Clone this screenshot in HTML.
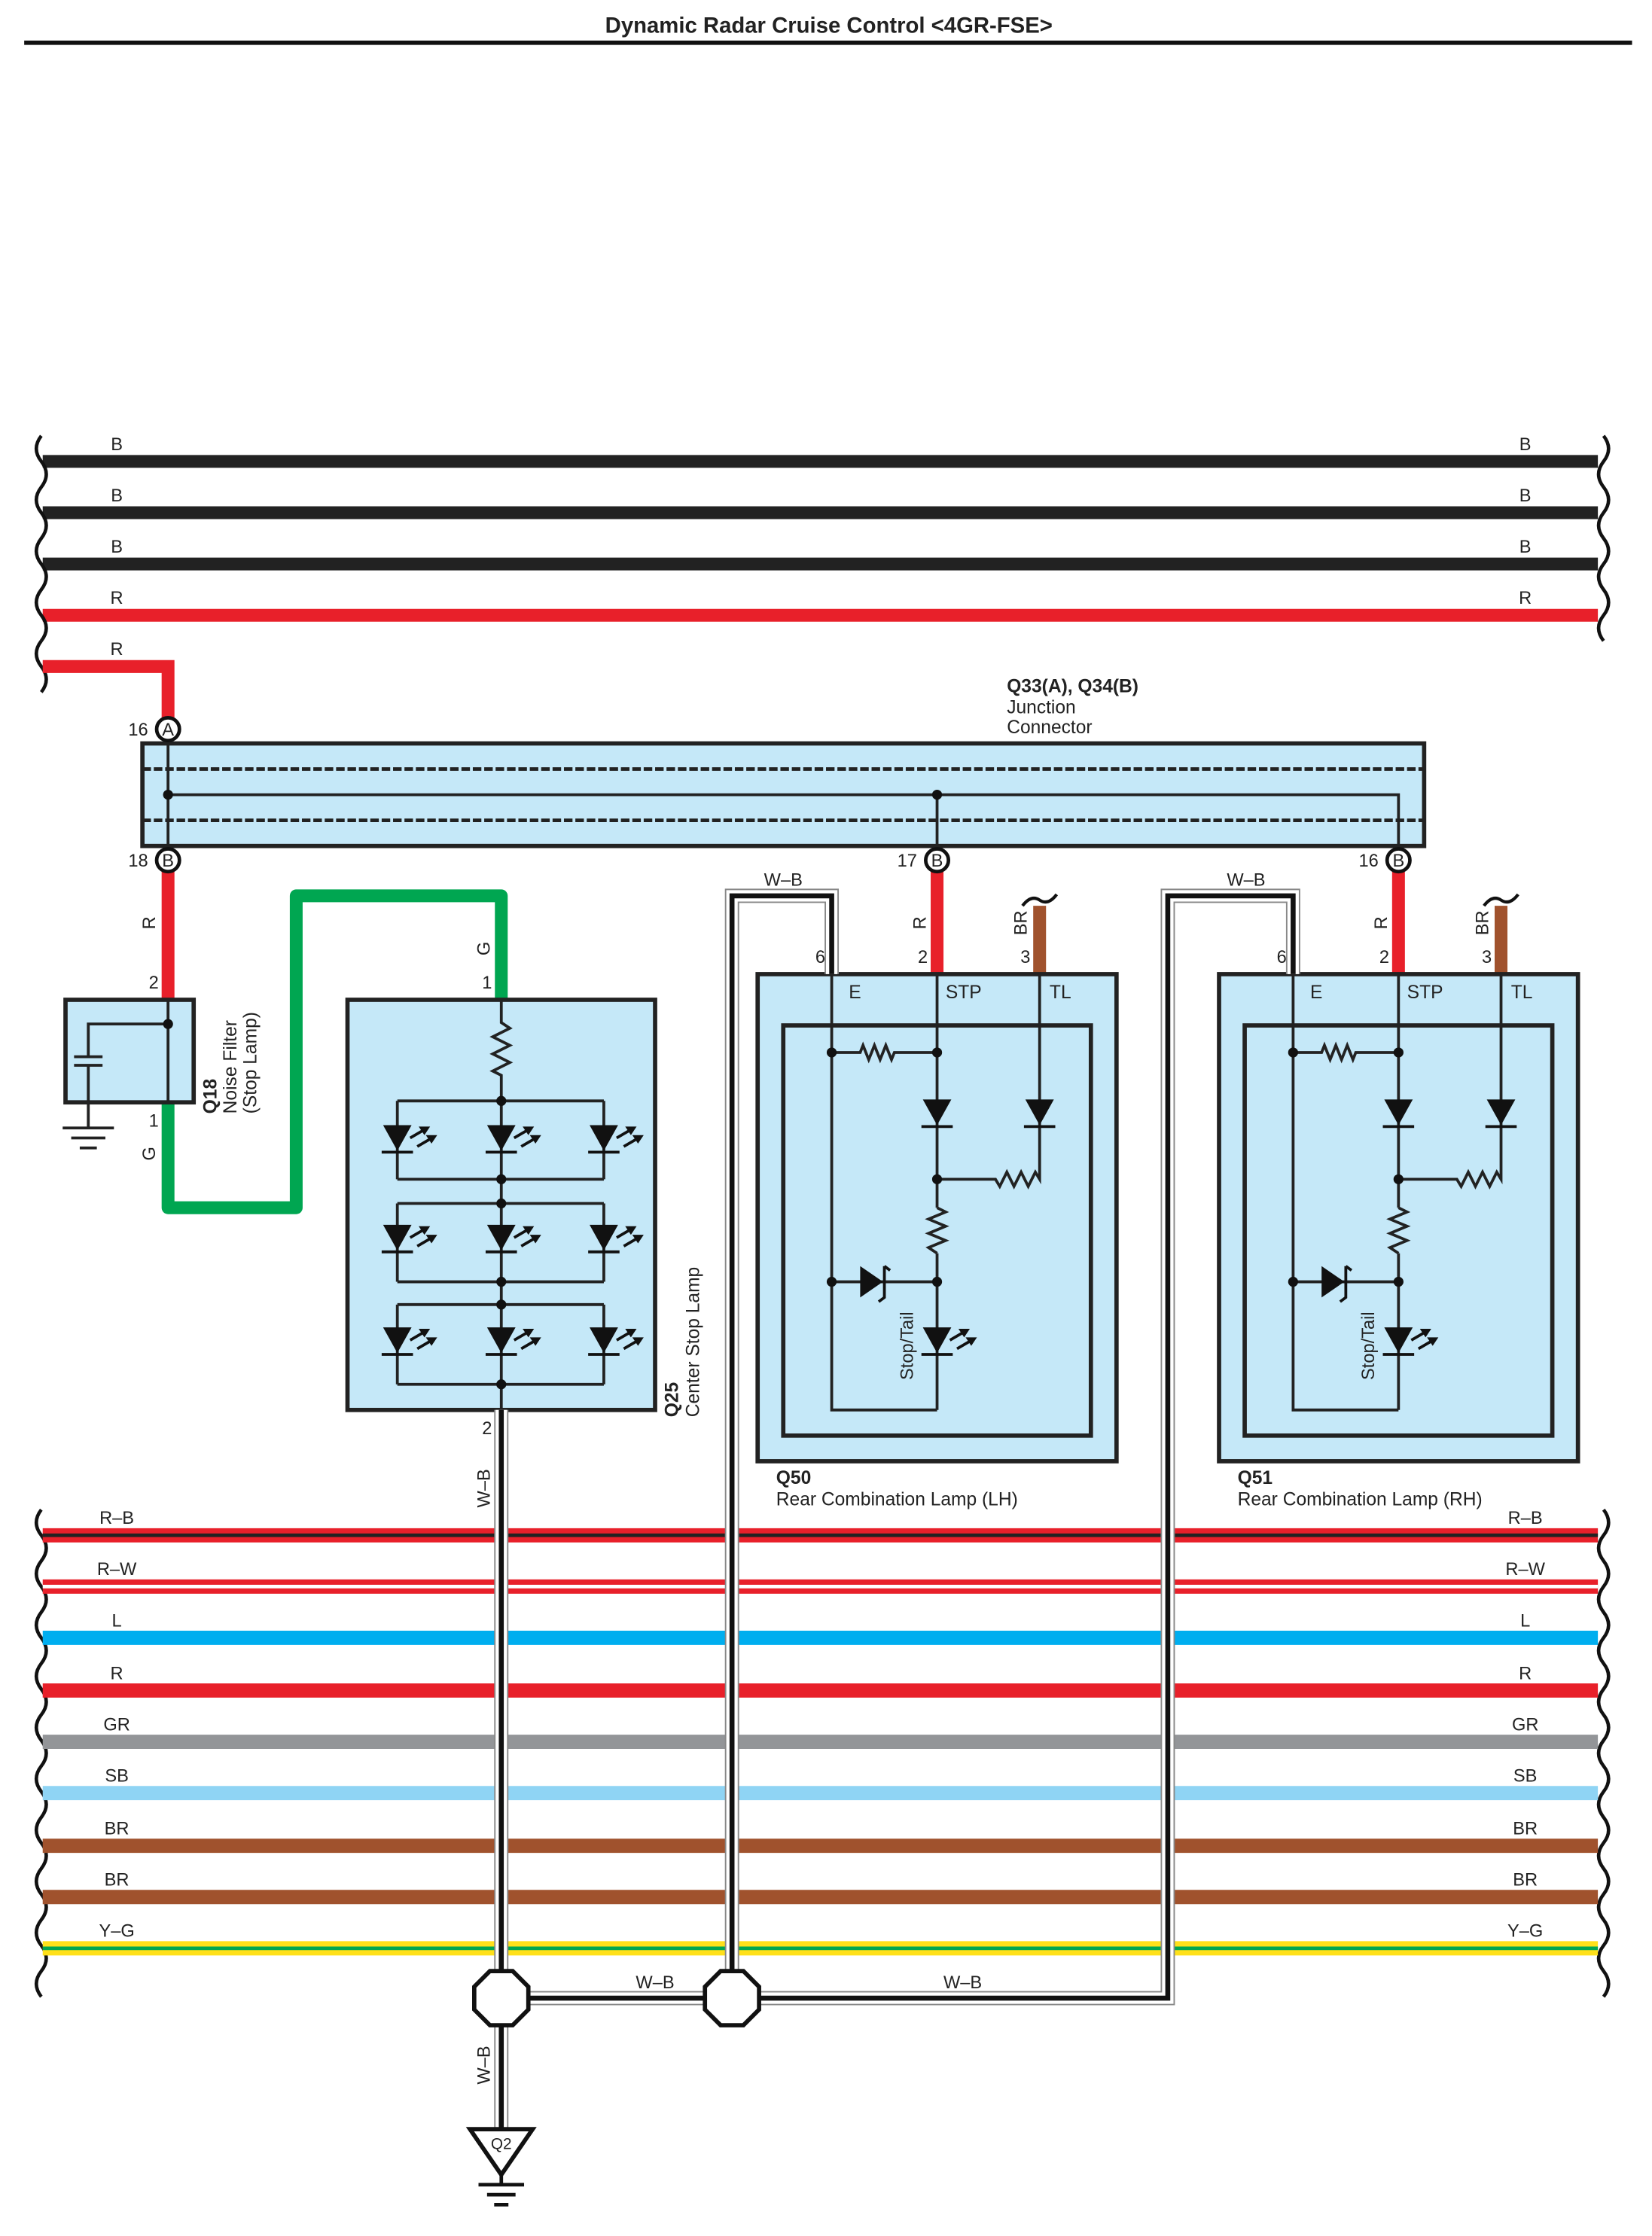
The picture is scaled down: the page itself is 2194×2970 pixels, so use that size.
<!DOCTYPE html>
<html><head><meta charset="utf-8"><style>
html,body{margin:0;padding:0;background:#fff}
svg{display:block}
text{font-family:"Liberation Sans",Arial,sans-serif;fill:#222}
</style></head><body>
<svg id="s" xmlns="http://www.w3.org/2000/svg" width="2194" height="2970" viewBox="0 0 1160 1570" preserveAspectRatio="none">
<defs>
<g id="dd"><polygon points="-10,-10 10,-10 0,8" fill="#111"/><line x1="-11" y1="9" x2="11" y2="9" stroke="#111" stroke-width="2"/></g>
<g id="arr"><line x1="0" y1="0" x2="12" y2="-7" stroke="#111" stroke-width="2"/><polygon points="14,-8 6,-8 10,-2" fill="#111"/></g>
<g id="led"><use href="#dd"/><use href="#arr" x="9" y="-1"/><use href="#arr" x="14" y="5"/></g>
</defs>
<rect width="1160" height="1570" fill="#fff"/>
<text x="582" y="23" font-size="15.5" font-weight="bold" text-anchor="middle">Dynamic Radar Cruise Control &lt;4GR-FSE&gt;</text>
<line x1="17" y1="30" x2="1146" y2="30" stroke="#111" stroke-width="3"/>
<g id="wires"></g>
<path d="M30,468 H118 V512" fill="none" stroke="#e8202a" stroke-width="9"/>
<rect x="100" y="522" width="900" height="72" fill="#c5e8f8" stroke="#222" stroke-width="3"/>
<line x1="100" y1="540" x2="1000" y2="540" stroke="#222" stroke-width="2.5" stroke-dasharray="6,2"/>
<line x1="100" y1="576" x2="1000" y2="576" stroke="#222" stroke-width="2.5" stroke-dasharray="6,2"/>
<path d="M118,512 V604 M118,558 H982 V604 M658,558 V604" fill="none" stroke="#222" stroke-width="2"/>
<circle cx="118" cy="558" r="3.5" fill="#111"/><circle cx="658" cy="558" r="3.5" fill="#111"/>
<text x="707" y="486" font-size="13" font-weight="bold">Q33(A), Q34(B)</text>
<text x="707" y="501" font-size="13">Junction</text>
<text x="707" y="515" font-size="13">Connector</text>
<text x="82" y="460" font-size="12.5" text-anchor="middle">R</text>
<path d="M118,612 V702" stroke="#e8202a" stroke-width="9"/>
<path d="M118,774 V848 H208 V629 H352 V702" fill="none" stroke="#00a651" stroke-width="9" stroke-linejoin="round"/>
<rect x="46" y="702" width="90" height="72" fill="#c5e8f8" stroke="#222" stroke-width="3"/>
<path d="M118,702 V774 M118,719 H62 V742 M62,748 V792 M52,742 H72 M52,748 H72 M44,792 H80 M50,799 H74 M56,806 H68" fill="none" stroke="#222" stroke-width="2"/>
<circle cx="118" cy="719" r="3.5" fill="#111"/>
<text x="108" y="694" font-size="12.5" text-anchor="middle">2</text>
<text x="108" y="791" font-size="12.5" text-anchor="middle">1</text>
<text transform="translate(109,648) rotate(-90)" font-size="12.5" text-anchor="middle">R</text>
<text transform="translate(109,810) rotate(-90)" font-size="12.5" text-anchor="middle">G</text>
<text transform="translate(152,782) rotate(-90)" font-size="13" font-weight="bold">Q18</text>
<text transform="translate(166,782) rotate(-90)" font-size="13">Noise Filter</text>
<text transform="translate(180,782) rotate(-90)" font-size="13">(Stop Lamp)</text>
<rect x="244" y="702" width="216" height="288" fill="#c5e8f8" stroke="#222" stroke-width="3"/>
<path d="M352,702 V718 l6,4 l-12,6 l12,6 l-12,6 l12,6 l-12,6 l6,3 V972 V990" fill="none" stroke="#222" stroke-width="2"/>
<g id="grp"></g>
<text x="342" y="694" font-size="12.5" text-anchor="middle">1</text>
<text transform="translate(344,666) rotate(-90)" font-size="12.5" text-anchor="middle">G</text>
<text x="342" y="1007" font-size="12.5" text-anchor="middle">2</text>
<text transform="translate(344,1045) rotate(-90)" font-size="12.5" text-anchor="middle">W–B</text>
<text transform="translate(476,995) rotate(-90)" font-size="13" font-weight="bold">Q25</text>
<text transform="translate(491,995) rotate(-90)" font-size="13">Center Stop Lamp</text>
<g id="lamps"></g>
<g id="wb"></g>
<text x="460" y="1396" font-size="12.5" text-anchor="middle">W–B</text>
<text x="676" y="1396" font-size="12.5" text-anchor="middle">W–B</text>
<text x="550" y="622" font-size="12.5" text-anchor="middle">W–B</text>
<text x="875" y="622" font-size="12.5" text-anchor="middle">W–B</text>
<text transform="translate(344,1450) rotate(-90)" font-size="12.5" text-anchor="middle">W–B</text>
<polygon points="330,1495 374,1495 352,1527" fill="#fff" stroke="#111" stroke-width="3"/>
<text x="352" y="1509" font-size="11" text-anchor="middle">Q2</text>
<path d="M352,1527 V1534 M336,1534 H368 M342,1541 H362 M347,1548 H357" stroke="#111" stroke-width="2.5"/>
</svg>
<script>
const NS="http://www.w3.org/2000/svg";
function el(p,t,a){const e=document.createElementNS(NS,t);for(const k in a)e.setAttribute(k,a[k]);p.appendChild(e);return e;}
function txt(p,x,y,s,anchor,size){const e=el(p,'text',{x:x,y:y,'font-size':size||12.5,'text-anchor':anchor||'middle'});e.textContent=s;return e;}
const W=document.getElementById('wires');
[[324,'#222','B'],[360,'#222','B'],[396,'#222','B'],[432,'#e8202a','R']].forEach(([y,c,l])=>{
 el(W,'line',{x1:30,y1:y,x2:1122,y2:y,stroke:c,'stroke-width':9});
 txt(W,82,y-8,l);txt(W,1071,y-8,l);
});
function wave(x,y0,y1,dir){let d=`M${x},${y0}`;let s=1;for(let y=y0;y<y1-1;y+=18){d+=` q${-7*s*dir},9 0,18`;s=-s;}
 el(W,'path',{d:d,fill:'none',stroke:'#111','stroke-width':2.4});}
wave(29,306,450,1);wave(1126,306,450,-1);wave(29,450,486,1);
wave(29,1060,1388,1);wave(1126,1060,1388,-1);
const bw=[[1078,'#e8202a','#222','R–B'],[1114,'#e8202a','#fff','R–W'],[1150,'#00aeef',null,'L'],[1187,'#e8202a',null,'R'],[1223,'#939598',null,'GR'],[1259,'#8fd4f4',null,'SB'],[1296,'#a0522d',null,'BR'],[1332,'#a0522d',null,'BR'],[1368,'#ffe01a','#00a651','Y–G']];
bw.forEach(([y,c,st,l])=>{
 el(W,'line',{x1:30,y1:y,x2:1122,y2:y,stroke:c,'stroke-width':10});
 if(st)el(W,'line',{x1:30,y1:y,x2:1122,y2:y,stroke:st,'stroke-width':2.5});
 txt(W,82,y-8,l);txt(W,1071,y-8,l);
});
const G=document.getElementById('grp');
[[773,828,800],[845,900,870],[916,972,942]].forEach(([a,b,d])=>{
 el(G,'path',{d:`M279,${a} H424 M279,${b} H424 M279,${a} V${b} M424,${a} V${b}`,fill:'none',stroke:'#222','stroke-width':2});
 [279,352,424].forEach(x=>el(G,'use',{href:'#led',x:x,y:d}));
 el(G,'circle',{cx:352,cy:a,r:3.5,fill:'#111'});el(G,'circle',{cx:352,cy:b,r:3.5,fill:'#111'});
});
const B=document.getElementById('wb');
const paths=["M352,990 V1495","M370,1403 H496","M514,1403 V629 H584 V684","M532,1403 H820 V629 H908 V684"];
paths.forEach(d=>{el(B,'path',{d:d,fill:'none',stroke:'#888','stroke-width':10});});
paths.forEach(d=>{el(B,'path',{d:d,fill:'none',stroke:'#fff','stroke-width':8});});
paths.forEach(d=>{el(B,'path',{d:d,fill:'none',stroke:'#111','stroke-width':3.5});});
function oct(cx,cy){const r=19,k=8;el(B,'polygon',{points:`${cx-k},${cy-r} ${cx+k},${cy-r} ${cx+r},${cy-k} ${cx+r},${cy+k} ${cx+k},${cy+r} ${cx-k},${cy+r} ${cx-r},${cy+k} ${cx-r},${cy-k}`,fill:'#fff',stroke:'#111','stroke-width':3});}
oct(352,1403);oct(514,1403);
const L=document.getElementById('lamps');
[[0,'Q50','Rear Combination Lamp (LH)'],[324,'Q51','Rear Combination Lamp (RH)']].forEach(([o,q,n])=>{
 const E=584+o,S=658+o,T=730+o;
 el(L,'line',{x1:S,y1:612,x2:S,y2:684,stroke:'#e8202a','stroke-width':9});
 el(L,'line',{x1:T,y1:636,x2:T,y2:684,stroke:'#a0522d','stroke-width':9});
 el(L,'path',{d:`M${T-12},${636} q6,-8 12,-4 q6,4 12,-4`,fill:'none',stroke:'#111','stroke-width':2.2});
 el(L,'rect',{x:532+o,y:684,width:252,height:342,fill:'#c5e8f8',stroke:'#222','stroke-width':3});
 el(L,'rect',{x:550+o,y:720,width:216,height:288,fill:'none',stroke:'#222','stroke-width':3});
 el(L,'path',{d:`M${E},684 V990 H${S} M${S},684 V990 M${T},684 V828 H${S+72} l-3,-5 l-5,10 l-5,-10 l-5,10 l-5,-10 l-5,10 l-3,-5 H${S} M${E},739 H${E+20} l2,-5 l4,10 l4,-10 l4,10 l4,-10 l4,10 l2,-5 H${S} M${E},900 H${S}`,fill:'none',stroke:'#222','stroke-width':2});
 el(L,'rect',{x:S-8,y:848,width:16,height:32,fill:'#c5e8f8'});
 el(L,'path',{d:`M${S},848 l6,3 l-12,5 l12,5 l-12,5 l12,5 l-12,5 l6,4`,fill:'none',stroke:'#222','stroke-width':2});
 el(L,'use',{href:'#dd',x:S,y:782});el(L,'use',{href:'#dd',x:T,y:782});
 el(L,'use',{href:'#led',x:S,y:942});
 el(L,'polygon',{points:`${E+20},889 ${E+20},911 ${E+36},900`,fill:'#111'});
 el(L,'path',{d:`M${E+41},892 l-4,-3 M${E+37},889 V911 l-4,3`,fill:'none',stroke:'#111','stroke-width':2});
 [[E,739],[S,739],[S,828],[E,900],[S,900]].forEach(([x,y])=>el(L,'circle',{cx:x,cy:y,r:3.5,fill:'#111'}));
 txt(L,E-8,676,'6');txt(L,S-10,676,'2');txt(L,T-10,676,'3');
 const r1=el(L,'text',{transform:`translate(${S-8},648) rotate(-90)`,'font-size':12.5,'text-anchor':'middle'});r1.textContent='R';
 const r2=el(L,'text',{transform:`translate(${T-9},648) rotate(-90)`,'font-size':12.5,'text-anchor':'middle'});r2.textContent='BR';
 txt(L,E+12,701,'E','start',13);txt(L,S+6,701,'STP','start',13);txt(L,T+7,701,'TL','start',13);
 const st=el(L,'text',{transform:`translate(${S-17},945) rotate(-90)`,'font-size':12.5,'text-anchor':'middle'});st.textContent='Stop/Tail';
 const a=txt(L,545+o,1042,q,'start',13);a.setAttribute('font-weight','bold');
 txt(L,545+o,1057,n,'start',13);
});
[[118,512,'A','16'],[118,604,'B','18'],[658,604,'B','17'],[982,604,'B','16']].forEach(([x,y,l,n])=>{
 el(L,'circle',{cx:x,cy:y,r:8,fill:'#fff',stroke:'#111','stroke-width':2.5});
 txt(L,x,y+4.5,l,'middle',12.5);txt(L,x-21,y+4.5,n,'middle',12.5);
});
</script>
</body></html>
